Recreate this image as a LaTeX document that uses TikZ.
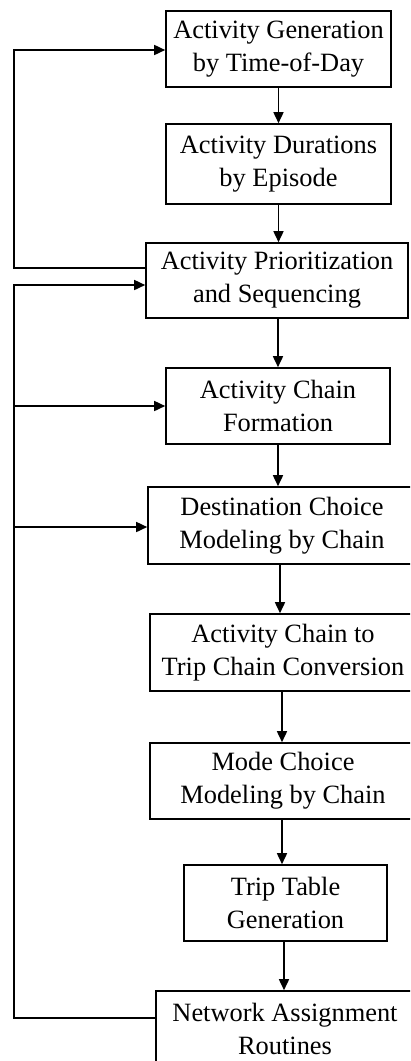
\documentclass[tikz,border=0pt]{standalone}
\usepackage{fontspec}
\setmainfont{Liberation Serif}
\usetikzlibrary{arrows.meta}
\begin{document}
\begin{tikzpicture}[x=1pt,y=-1pt,
  stepbox/.style={draw,line width=1.6pt,align=center,inner sep=0pt,
    font=\fontsize{26.4}{33}\selectfont},
  flow/.style={line width=1.6pt,-{Triangle[length=11pt,width=10pt]}}]
\useasboundingbox (0,0) rectangle (410,1061);
\clip (0,0) rectangle (410,1061);
\node[stepbox,minimum width=225pt,minimum height=76pt] (b1) at (278.5,49) {Activity Generation\\by Time-of-Day};
\node[stepbox,minimum width=225pt,minimum height=80pt] (b2) at (278.5,164) {Activity Durations\\by Episode};
\node[stepbox,minimum width=262pt,minimum height=75pt] (b3) at (277,280.5) {Activity Prioritization\\and Sequencing};
\node[stepbox,minimum width=224pt,minimum height=76pt] (b4) at (278,406) {Activity Chain\\Formation};
\node[stepbox,minimum width=268pt,minimum height=77pt] (b5) at (282,525.5) {Destination Choice\\Modeling by Chain};
\node[stepbox,minimum width=266pt,minimum height=77pt] (b6) at (283,652.5) {Activity Chain to\\Trip Chain Conversion};
\node[stepbox,minimum width=266pt,minimum height=76pt] (b7) at (283,781) {Mode Choice\\Modeling by Chain};
\node[stepbox,minimum width=203pt,minimum height=76pt] (b8) at (285.5,903) {Trip Table\\Generation};
\node[stepbox,minimum width=258pt,minimum height=76pt] (b9) at (285,1029) {Network Assignment\\Routines};
% forward flow
\draw[flow] (b1.south) -- (b1.south |- b2.north);
\draw[flow] (b2.south) -- (b2.south |- b3.north);
\draw[flow] (278,0 |- b3.south) -- (278,0 |- b4.north);
\draw[flow] (b4.south) -- (b4.south |- b5.north);
\draw[flow] (280,0 |- b5.south) -- (280,0 |- b6.north);
\draw[flow] (282,0 |- b6.south) -- (282,0 |- b7.north);
\draw[flow] (282,0 |- b7.south) -- (282,0 |- b8.north);
\draw[flow] (284,0 |- b8.south) -- (284,0 |- b9.north);
% feedback loop 1
\coordinate (l1a) at (14,268);
\coordinate (l1b) at (14,50);
\draw[flow] (b3.west |- l1a) -- (l1a) -- (l1b) -- (l1b -| b1.west);
% feedback loop 2
\coordinate (l2a) at (14,1018);
\coordinate (l2b) at (14,285);
\coordinate (l2c) at (14,406);
\coordinate (l2d) at (14,527);
\draw[flow] (b9.west |- l2a) -- (l2a) -- (l2b) -- (l2b -| b3.west);
\draw[flow] (l2c) -- (l2c -| b4.west);
\draw[flow] (l2d) -- (l2d -| b5.west);
\end{tikzpicture}
\end{document}
